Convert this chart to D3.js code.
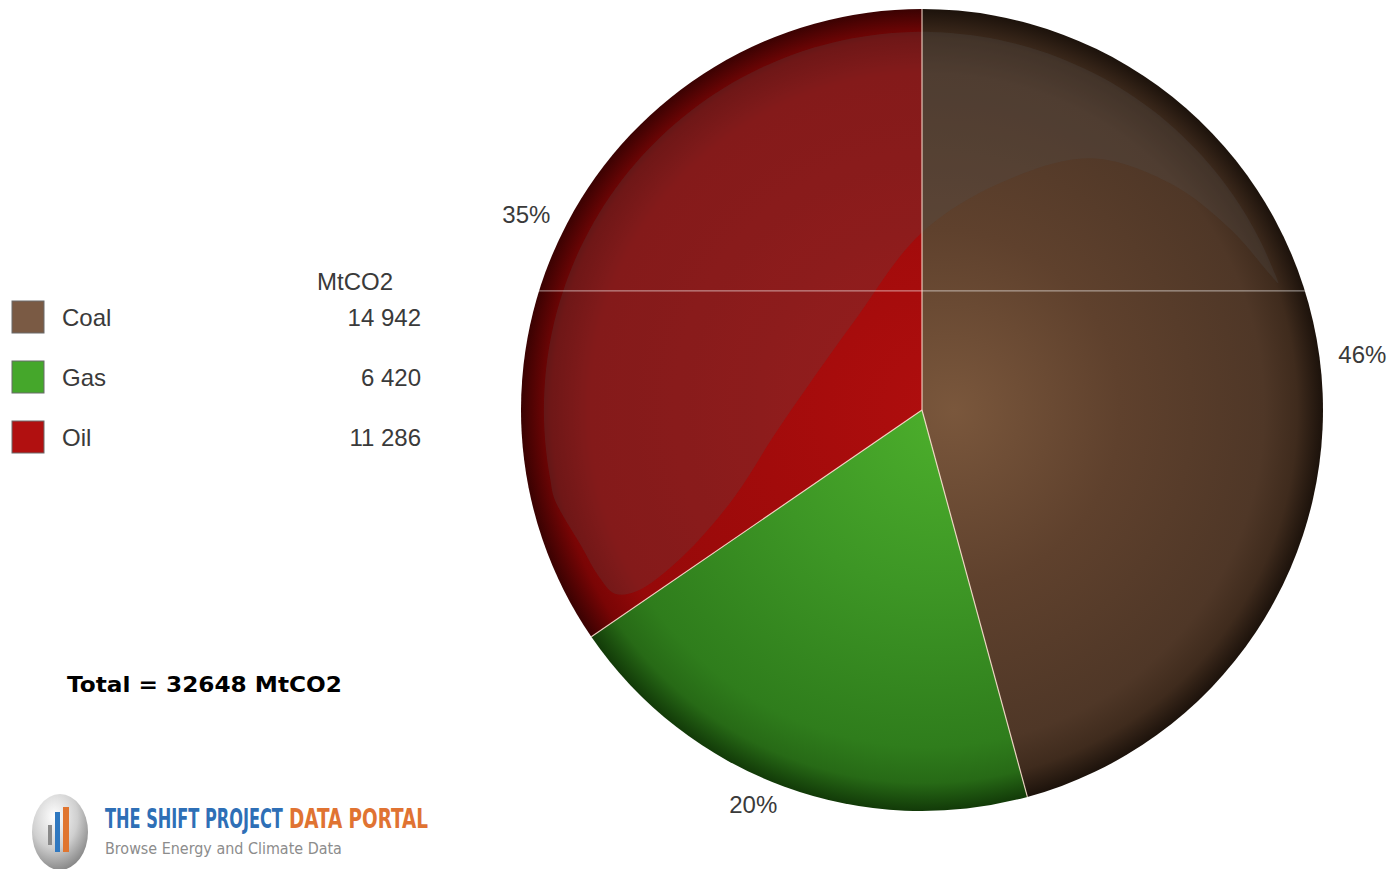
<!DOCTYPE html>
<html>
<head>
<meta charset="utf-8">
<script src="https://cdn.jsdelivr.net/npm/d3@7/dist/d3.min.js"></script>
<style>
  html, body { margin: 0; padding: 0; background: #ffffff; }
  svg { display: block; }
</style>
</head>
<body>
<svg id="chart" width="1393" height="869"></svg>
<script>
// CO2 emissions by fuel, MtCO2
const categories = ["Coal", "Gas", "Oil"];
const values = [14942, 6420, 11286];
const unit = "MtCO2";
const legendColors = ["#7a5a44", "#45a72b", "#b11010"];

// radial shading per slice: [offset, colour]
const sliceShades = [
  [[0, "#7a573c"], [0.45, "#5f412d"], [0.84, "#4f3727"], [0.93, "#3f2b1d"], [1, "#1c120b"]],
  [[0, "#4db02c"], [0.45, "#3d9625"], [0.84, "#2f7d1c"], [0.93, "#276a16"], [1, "#123a08"]],
  [[0, "#b00e0e"], [0.45, "#a20b0b"], [0.84, "#960909"], [0.93, "#7a0505"], [1, "#3a0202"]]
];

const data = categories.map((c, i) => ({ name: c, value: values[i], index: i }));
const total = d3.sum(values);

const cx = 922, cy = 410, R = 401;

const svg = d3.select("#chart");
const defs = svg.append("defs");

// slice gradients
sliceShades.forEach((stops, i) => {
  const g = defs.append("radialGradient")
    .attr("id", "shade" + i)
    .attr("gradientUnits", "userSpaceOnUse")
    .attr("cx", cx).attr("cy", cy).attr("r", R)
    .attr("fx", cx + 0.08 * R).attr("fy", cy);
  stops.forEach(s => g.append("stop").attr("offset", s[0]).attr("stop-color", s[1]));
});

defs.append("clipPath").attr("id", "pieClip")
  .append("circle").attr("cx", cx).attr("cy", cy).attr("r", R);

const pie = d3.pie().sort(null).value(d => d.value);
const arcs = pie(data);

// slices, drawn in absolute coordinates so the userSpace gradients line up
svg.append("g").selectAll("path.slice")
  .data(arcs)
  .join("path")
  .attr("class", "slice")
  .attr("fill", d => `url(#shade${d.data.index})`)
  .attr("d", d => {
    const p = d3.path();
    const a0 = d.startAngle - Math.PI / 2, a1 = d.endAngle - Math.PI / 2;
    p.moveTo(cx, cy);
    p.lineTo(cx + R * Math.cos(a0), cy + R * Math.sin(a0));
    p.arc(cx, cy, R, a0, a1, false);
    p.closePath();
    return p.toString();
  });

// glossy overlay: inset rim circle on the upper-left, cut by a sweeping curve
const glossG = svg.append("g").attr("clip-path", "url(#pieClip)");
const inset = 0.943;
const rimStart = -19.6, rimEnd = -195; // degrees, svg orientation
const glossPts = [];
for (let a = rimStart; a >= rimEnd; a -= 3) {
  const t = a * Math.PI / 180;
  glossPts.push([inset * Math.cos(t), inset * Math.sin(t)]);
}
const cutPts = [
  [-0.848, 0.342], [-0.806, 0.415], [-0.766, 0.458], [-0.712, 0.452],
  [-0.599, 0.367], [-0.47, 0.22], [-0.36, 0.05], [-0.17, -0.22],
  [-0.002, -0.441], [0.195, -0.566], [0.419, -0.628], [0.62, -0.565],
  [0.77, -0.45], [0.862, -0.345]
];
cutPts.forEach(p => glossPts.push(p));
const glossLine = d3.line()
  .x(p => cx + p[0] * R)
  .y(p => cy + p[1] * R)
  .curve(d3.curveCatmullRomClosed.alpha(0.5));
glossG.append("path")
  .attr("d", glossLine(glossPts))
  .attr("fill", "rgba(80,80,80,0.25)");

// slice borders
svg.append("g").attr("transform", `translate(${cx},${cy})`)
  .selectAll("path.edge")
  .data(arcs)
  .join("path")
  .attr("class", "edge")
  .attr("d", d => {
    const p = d3.path();
    const a0 = d.startAngle - Math.PI / 2;
    p.moveTo(0, 0);
    p.lineTo(R * Math.cos(a0), R * Math.sin(a0));
    return p.toString();
  })
  .attr("fill", "none")
  .attr("stroke", "rgba(255,225,210,0.85)")
  .attr("stroke-width", 1.2);

// thin highlight line across the disc
glossG.append("line")
  .attr("x1", cx - R).attr("x2", cx + R)
  .attr("y1", cy - 0.297 * R).attr("y2", cy - 0.297 * R)
  .attr("stroke", "rgba(255,255,255,0.6)")
  .attr("stroke-width", 1);

// percentage labels
const labelR = 420;
const fmtPct = v => Math.round(v / total * 100) + "%";
svg.append("g").selectAll("text")
  .data(arcs)
  .join("text")
  .each(function (d) {
    const mid = (d.startAngle + d.endAngle) / 2;
    const x = cx + labelR * Math.sin(mid);
    const y = cy - labelR * Math.cos(mid);
    d3.select(this)
      .attr("x", x).attr("y", y)
      .attr("dy", "0.35em")
      .attr("text-anchor", Math.sin(mid) >= 0 ? "start" : "end");
  })
  .attr("font-family", "Liberation Sans, Arial, sans-serif")
  .attr("font-size", 24)
  .attr("fill", "#3a3a3a")
  .text(d => fmtPct(d.value));

// legend
const fmtVal = v => d3.format(",")(v).replace(/,/g, " ");
const legend = svg.append("g").attr("font-family", "Liberation Sans, Arial, sans-serif")
  .attr("font-size", 24).attr("fill", "#3a3a3a");
legend.append("text").attr("x", 393).attr("y", 290).attr("text-anchor", "end").text(unit);
const rowY = d3.scalePoint().domain(categories).range([317, 437]);
const rows = legend.selectAll("g.row").data(data).join("g").attr("class", "row")
  .attr("transform", d => `translate(0,${rowY(d.name)})`);
rows.append("rect")
  .attr("x", 12).attr("y", -16).attr("width", 32).attr("height", 32)
  .attr("fill", d => legendColors[d.index])
  .attr("stroke", "#6b6b6b").attr("stroke-width", 1);
rows.append("text").attr("x", 62).attr("y", 8.5).text(d => d.name);
rows.append("text").attr("x", 421).attr("y", 8.5).attr("text-anchor", "end")
  .text(d => fmtVal(d.value));

// fit a text horizontally into a given width with a scale transform
function fitText(sel, x, y, width) {
  const natural = sel.node().getComputedTextLength();
  const sx = width / natural;
  sel.attr("x", 0).attr("y", 0)
    .attr("transform", `translate(${x},${y}) scale(${sx},1)`);
}

// total
const totalText = svg.append("text")
  .attr("font-family", "DejaVu Sans, Verdana, sans-serif")
  .attr("font-weight", "bold")
  .attr("font-size", 21)
  .attr("fill", "#000")
  .text(`Total = ${total} ${unit}`);
fitText(totalText, 67, 692, 275);

// portal logo
const logo = svg.append("g");
const sph = defs.append("radialGradient").attr("id", "sphere")
  .attr("cx", "40%").attr("cy", "30%").attr("r", "75%");
sph.append("stop").attr("offset", 0).attr("stop-color", "#ffffff");
sph.append("stop").attr("offset", 0.55).attr("stop-color", "#cfcfcf");
sph.append("stop").attr("offset", 1).attr("stop-color", "#808080");
logo.append("ellipse").attr("cx", 60).attr("cy", 832).attr("rx", 28).attr("ry", 38)
  .attr("fill", "url(#sphere)");
const logoBars = [
  { x: 48, y: 825, w: 4, h: 20, c: "#8a8a8a" },
  { x: 55, y: 812, w: 5, h: 40, c: "#2f78c0" },
  { x: 63, y: 807, w: 6, h: 45, c: "#e0752f" }
];
logo.selectAll("rect").data(logoBars).join("rect")
  .attr("x", d => d.x).attr("y", d => d.y).attr("width", d => d.w).attr("height", d => d.h)
  .attr("fill", d => d.c);
const narrow = "Liberation Sans Narrow, DejaVu Sans Condensed, Arial Narrow, sans-serif";
const t1 = logo.append("text")
  .attr("font-family", narrow).attr("font-weight", "bold").attr("font-size", 26)
  .attr("font-stretch", "condensed")
  .attr("fill", "#2e6fb6").text("THE SHIFT PROJECT");
fitText(t1, 105, 828, 178);
const t2 = logo.append("text")
  .attr("font-family", narrow).attr("font-weight", "bold").attr("font-size", 26)
  .attr("font-stretch", "condensed")
  .attr("fill", "#e07332").text("DATA PORTAL");
fitText(t2, 289, 828, 139);
const t3 = logo.append("text")
  .attr("font-family", narrow).attr("font-size", 15)
  .attr("font-stretch", "condensed")
  .attr("fill", "#8c8c8c").text("Browse Energy and Climate Data");
fitText(t3, 105, 854, 237);
</script>
</body>
</html>
